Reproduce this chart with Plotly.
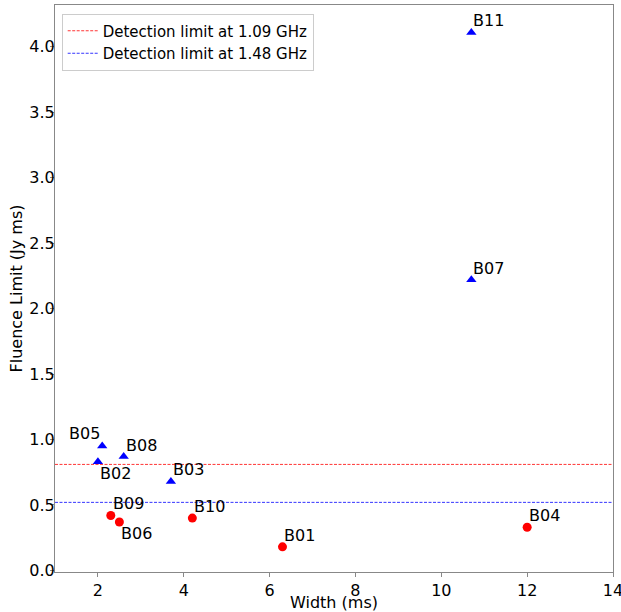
import plotly.graph_objects as go

# Data
names_tri = ["B11", "B07", "B05", "B02", "B08", "B03"]
width_tri = [10.7, 10.7, 2.1, 2.0, 2.6, 3.7]
fluence_tri = [4.11, 2.22, 0.95, 0.83, 0.87, 0.68]

names_circ = ["B09", "B06", "B10", "B01", "B04"]
width_circ = [2.3, 2.5, 4.2, 6.3, 12.0]
fluence_circ = [0.42, 0.37, 0.40, 0.18, 0.33]

limit_names = ["Detection limit at 1.09 GHz", "Detection limit at 1.48 GHz"]
limit_values = [0.81, 0.52]
limit_colors = ["red", "blue"]

x_range = [1, 14]
y_range = [-0.012, 4.32]

# label placement per burst: (xanchor, yanchor, xshift, yshift)
label_pos = {
    "B05": ("right", "bottom", 0, 1),
    "B02": ("left", "top", 0, 0),
    "B06": ("left", "top", 0, 0),
}

FONT = "DejaVu Sans"
fig = go.Figure()

for name, val, col in zip(limit_names, limit_values, limit_colors):
    fig.add_trace(go.Scatter(
        x=x_range, y=[val, val], mode="lines", name=name,
        line=dict(color=col, width=0.8, dash="3px,1.5px"),
    ))

fig.add_trace(go.Scatter(
    x=width_tri, y=fluence_tri, mode="markers", showlegend=False,
    marker=dict(symbol="triangle-up", color="blue", size=9),
))
fig.add_trace(go.Scatter(
    x=width_circ, y=fluence_circ, mode="markers", showlegend=False,
    marker=dict(symbol="circle", color="red", size=9),
))

for names, xs, ys in [(names_tri, width_tri, fluence_tri), (names_circ, width_circ, fluence_circ)]:
    for n, x, y in zip(names, xs, ys):
        xa, ya, xs_, ys_ = label_pos.get(n, ("left", "bottom", 0, 0))
        fig.add_annotation(x=x, y=y, text=n, showarrow=False,
                           xanchor=xa, yanchor=ya, xshift=xs_, yshift=ys_,
                           font=dict(family=FONT, size=16, color="black"))

axis_common = dict(
    showgrid=False, zeroline=False, showline=True, linecolor="#888888", linewidth=1,
    mirror=True, ticks="outside", ticklen=4, tickcolor="#888888", automargin=False,
    tickfont=dict(family=FONT, size=16, color="black"), ticklabeloverflow="allow",
)

fig.update_layout(
    width=621, height=612,
    margin=dict(l=55, r=8, t=5, b=40),
    paper_bgcolor="white", plot_bgcolor="white",
    font=dict(family=FONT, color="black"),
    xaxis=dict(range=x_range, tickvals=[2, 4, 6, 8, 10, 12, 14],
               title=dict(text="Width (ms)", font=dict(family=FONT, size=16), standoff=0),
               **axis_common),
    yaxis=dict(range=y_range, tickvals=[0, 0.5, 1, 1.5, 2, 2.5, 3, 3.5, 4],
               tickformat=".1f", ticklabelstandoff=-8,
               title=dict(text="Fluence Limit (Jy ms)", font=dict(family=FONT, size=16), standoff=2),
               **axis_common),
    legend=dict(x=0.012, y=0.985, xanchor="left", yanchor="top",
                bordercolor="#cccccc", borderwidth=1, bgcolor="white",
                font=dict(family=FONT, size=15), itemwidth=30),
)

fig.write_html("out.html", post_script="document.body.style.margin='0';",
               config={"displayModeBar": False})
